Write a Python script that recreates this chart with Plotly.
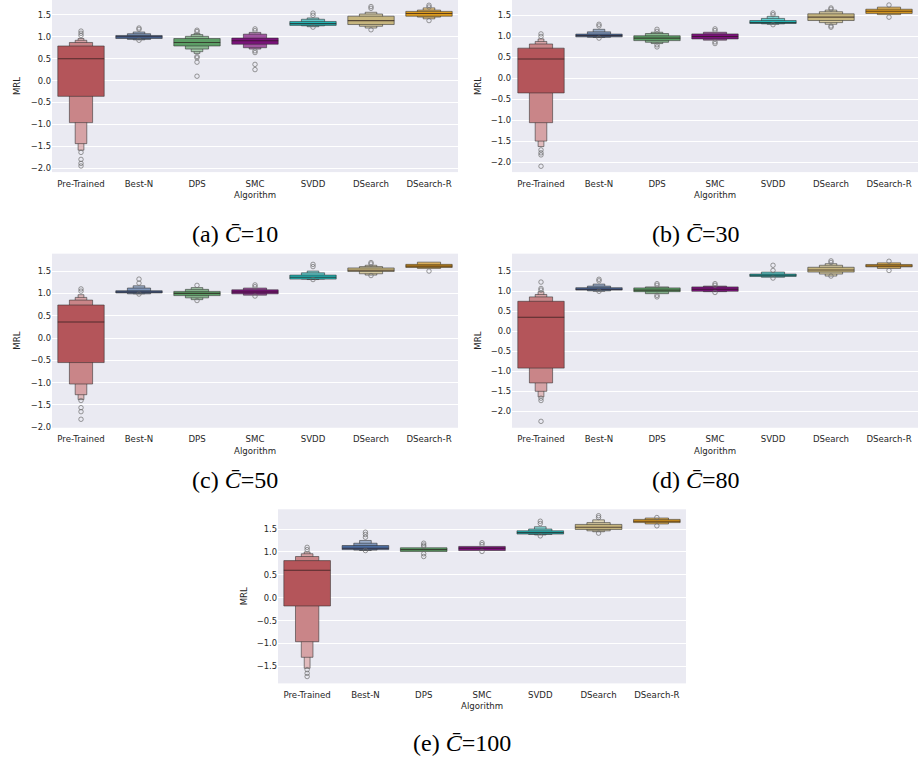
import plotly.graph_objects as go

W, H = 918, 762

ALGORITHMS = ["Pre-Trained", "Best-N", "DPS", "SMC", "SVDD", "DSearch", "DSearch-R"]
BASE_COLORS = ["#b4555a", "#4a6b9e", "#5c9e66", "#7b127b", "#22b5b5", "#c6b57e", "#dd9c1f"]
PANEL_LABELS = ["(a)", "(b)", "(c)", "(d)", "(e)"]
C_BAR = [10, 30, 50, 80, 100]

# ---- letter-value boxes: per algorithm, list of [low, high] from innermost box outward
MEDIAN_A = [0.50, 1.00, 0.87, 0.91, 1.30, 1.37, 1.53]
LEVELS_A = [
    [[-0.36, 0.79], [-0.96, 0.87], [-1.44, 0.92], [-1.59, 0.96]],
    [[0.96, 1.03], [0.94, 1.07], [0.93, 1.11]],
    [[0.79, 0.96], [0.72, 1.01], [0.66, 1.05], [0.62, 1.08]],
    [[0.83, 0.97], [0.75, 1.06], [0.72, 1.10]],
    [[1.26, 1.35], [1.25, 1.40], [1.23, 1.43]],
    [[1.28, 1.47], [1.24, 1.52], [1.20, 1.56]],
    [[1.47, 1.58], [1.45, 1.61], [1.41, 1.66]],
]
OUTLIERS_A = [
    [1.13, 1.08, 1.03, -1.64, -1.80, -1.89, -1.95],
    [1.20, 1.17, 0.92],
    [1.15, 1.12, 0.55, 0.52, 0.42, 0.10],
    [1.18, 1.14, 0.68, 0.64, 0.37, 0.25],
    [1.54, 1.49, 1.22],
    [1.69, 1.65, 1.16],
    [1.72, 1.68, 1.37],
]

MEDIAN_B = [0.46, 1.02, 0.96, 1.00, 1.33, 1.46, 1.60]
LEVELS_B = [
    [[-0.35, 0.72], [-1.06, 0.82], [-1.50, 0.88], [-1.63, 0.94]],
    [[0.99, 1.056], [0.98, 1.11], [0.975, 1.17]],
    [[0.90, 1.016], [0.86, 1.07], [0.83, 1.10]],
    [[0.94, 1.06], [0.91, 1.10]],
    [[1.31, 1.38], [1.30, 1.43], [1.29, 1.48]],
    [[1.38, 1.54], [1.33, 1.59], [1.29, 1.63]],
    [[1.55, 1.65], [1.52, 1.70]],
]
OUTLIERS_B = [
    [1.06, 1.00, -1.71, -1.78, -1.83, -2.10],
    [1.29, 1.25, 0.96],
    [1.17, 1.12, 0.80, 0.75],
    [1.18, 1.14, 0.87, 0.83],
    [1.56, 1.52, 1.28],
    [1.68, 1.65, 1.25, 1.22],
    [1.75, 1.46],
]

MEDIAN_C = [0.36, 1.03, 1.00, 1.03, 1.36, 1.52, 1.61]
LEVELS_C = [
    [[-0.55, 0.74], [-1.03, 0.85], [-1.27, 0.91], [-1.38, 0.97]],
    [[1.01, 1.06], [0.99, 1.12], [0.99, 1.17]],
    [[0.95, 1.045], [0.90, 1.09], [0.86, 1.13]],
    [[0.99, 1.08], [0.96, 1.12]],
    [[1.32, 1.41], [1.32, 1.46], [1.31, 1.50]],
    [[1.49, 1.57], [1.44, 1.60], [1.41, 1.63]],
    [[1.58, 1.65], [1.56, 1.70]],
]
OUTLIERS_C = [
    [1.10, 1.05, -1.40, -1.56, -1.65, -1.82],
    [1.32, 1.23, 0.985],
    [1.18, 0.84],
    [1.19, 1.15, 0.94],
    [1.65, 1.60, 1.31],
    [1.69, 1.66, 1.40],
    [1.50],
]

MEDIAN_D = [0.35, 1.05, 1.03, 1.05, 1.40, 1.53, 1.63]
LEVELS_D = [
    [[-0.92, 0.75], [-1.29, 0.86], [-1.50, 0.92], [-1.64, 0.99]],
    [[1.03, 1.09], [1.01, 1.13], [1.00, 1.18]],
    [[0.99, 1.085], [0.94, 1.11]],
    [[1.00, 1.11], [0.99, 1.13]],
    [[1.37, 1.43], [1.35, 1.48]],
    [[1.48, 1.60], [1.43, 1.65], [1.38, 1.69]],
    [[1.61, 1.67], [1.57, 1.71]],
]
OUTLIERS_D = [
    [1.23, 1.07, 1.03, -1.67, -1.73, -2.25],
    [1.30, 1.26, 1.00],
    [1.19, 1.15, 0.90, 0.86],
    [1.19, 1.15, 0.97],
    [1.65, 1.52, 1.33],
    [1.76, 1.72, 1.38],
    [1.75, 1.52],
]

MEDIAN_E = [0.60, 1.08, 1.05, 1.08, 1.42, 1.54, 1.67]
LEVELS_E = [
    [[-0.18, 0.81], [-0.96, 0.90], [-1.30, 0.96], [-1.54, 1.00]],
    [[1.05, 1.14], [1.04, 1.19], [1.03, 1.25]],
    [[1.01, 1.09]],
    [[1.03, 1.12]],
    [[1.39, 1.46], [1.38, 1.50], [1.37, 1.55]],
    [[1.49, 1.60], [1.46, 1.64], [1.44, 1.70]],
    [[1.64, 1.71], [1.61, 1.74]],
]
OUTLIERS_E = [
    [1.10, 1.05, -1.57, -1.65, -1.72],
    [1.43, 1.38, 1.32, 1.03],
    [1.19, 1.15, 1.12, 0.96, 0.90],
    [1.20, 1.16, 1.01],
    [1.67, 1.62, 1.35],
    [1.79, 1.75, 1.41],
    [1.75, 1.57],
]

PANELS = [
    (MEDIAN_A, LEVELS_A, OUTLIERS_A),
    (MEDIAN_B, LEVELS_B, OUTLIERS_B),
    (MEDIAN_C, LEVELS_C, OUTLIERS_C),
    (MEDIAN_D, LEVELS_D, OUTLIERS_D),
    (MEDIAN_E, LEVELS_E, OUTLIERS_E),
]

# ---- layout (pixel boxes of each plot area: left, right, top, bottom)
BOXES = [
    (52, 458, 0, 173),
    (512, 918, 0, 173),
    (52, 458, 255, 430),
    (512, 918, 255, 430),
    (278, 686, 512, 687),
]
YRANGES = [(-2.09, 1.84), (-2.24, 1.87), (-2.01, 1.89), (-2.41, 1.94), (-1.87, 1.93)]
CAPTION_POS = [(235, 235), (696, 235), (235, 483), (696, 483), (462, 747)]
MRL_X = [17, 478, 17, 478, 244]

EDGE = "rgba(45,45,45,0.62)"
FLIER = "rgba(105,105,105,0.85)"
LIGHTEN = [0.0, 0.28, 0.46, 0.6, 0.7]


def shade(hexcol, k):
    hexcol = hexcol.lstrip("#")
    r, g, b = (int(hexcol[i:i + 2], 16) for i in (0, 2, 4))
    t = LIGHTEN[min(k, len(LIGHTEN) - 1)]
    r = round(r + (255 - r) * t)
    g = round(g + (255 - g) * t)
    b = round(b + (255 - b) * t)
    return f"rgb({r},{g},{b})"


fig = go.Figure()
layout = dict(
    width=W, height=H, margin=dict(l=0, r=0, t=0, b=0),
    paper_bgcolor="white", plot_bgcolor="#EAEAF2",
    showlegend=False, barmode="overlay",
    font=dict(family="DejaVu Sans", size=8.5, color="#262626"),
)
annotations = []

for p, (medians, levels, outliers) in enumerate(PANELS):
    n = p + 1
    xa = "x" if n == 1 else f"x{n}"
    ya = "y" if n == 1 else f"y{n}"
    L, R, T, B = BOXES[p]
    maxlev = max(len(lv) for lv in levels)
    for k in reversed(range(maxlev)):
        xs, bases, heights, cols = [], [], [], []
        for i, lv in enumerate(levels):
            if k < len(lv):
                lo, hi = lv[k]
                xs.append(i)
                bases.append(lo)
                heights.append(hi - lo)
                cols.append(shade(BASE_COLORS[i], k))
        fig.add_trace(go.Bar(
            x=xs, y=heights, base=bases, width=0.8 * 0.5 ** k,
            marker=dict(color=cols, line=dict(color=EDGE, width=0.9)),
            xaxis=xa, yaxis=ya, hoverinfo="skip",
        ))
    for i, m in enumerate(medians):
        fig.add_trace(go.Scatter(
            x=[i - 0.4, i + 0.4], y=[m, m], mode="lines",
            line=dict(color="rgba(40,25,25,0.7)", width=1.1),
            xaxis=xa, yaxis=ya, hoverinfo="skip",
        ))
    fx, fy = [], []
    for i, ol in enumerate(outliers):
        for v in ol:
            fx.append(i)
            fy.append(v)
    fig.add_trace(go.Scatter(
        x=fx, y=fy, mode="markers",
        marker=dict(symbol="circle-open", size=4.5, color=FLIER, line=dict(width=0.8)),
        xaxis=xa, yaxis=ya, hoverinfo="skip",
    ))

    key_x = "xaxis" if n == 1 else f"xaxis{n}"
    key_y = "yaxis" if n == 1 else f"yaxis{n}"
    layout[key_x] = dict(
        domain=[L / W, R / W], anchor=ya, range=[-0.5, 6.5],
        tickmode="array", tickvals=list(range(len(ALGORITHMS))), ticktext=ALGORITHMS,
        showgrid=False, zeroline=False, showline=False, ticks="",
        ticklabeloverflow="allow", ticklabelstandoff=5,
        tickfont=dict(family="DejaVu Sans", size=8.6, color="#262626"),
    )
    layout[key_y] = dict(
        domain=[1 - B / H, 1 - T / H], anchor=xa, range=list(YRANGES[p]),
        tick0=0, dtick=0.5, tickformat=".1f",
        showgrid=True, gridcolor="white", gridwidth=1, zeroline=False,
        showline=False, ticks="",
        tickfont=dict(family="DejaVu Sans", size=8.4, color="#262626"),
    )
    annotations.append(dict(
        text="MRL", x=MRL_X[p] / W, y=1 - (T + B) / 2 / H, xref="paper", yref="paper",
        textangle=-90, showarrow=False, xanchor="center", yanchor="middle",
        font=dict(family="DejaVu Sans", size=8.6, color="#262626"),
    ))
    annotations.append(dict(
        text="Algorithm", x=(L + R) / 2 / W, y=1 - (B + 23) / H, xref="paper", yref="paper",
        showarrow=False, xanchor="center", yanchor="middle",
        font=dict(family="DejaVu Sans", size=8.6, color="#262626"),
    ))
    cx, cy = CAPTION_POS[p]
    annotations.append(dict(
        text=f"{PANEL_LABELS[p]} <i>C\u0304</i>={C_BAR[p]}", x=cx / W, y=1 - cy / H,
        xref="paper", yref="paper", showarrow=False, xanchor="center", yanchor="middle",
        font=dict(family="Liberation Serif", size=24, color="black"),
    ))

layout["annotations"] = annotations
fig.update_layout(**layout)
fig.write_html(
    "out.html",
    config={"displayModeBar": False},
    post_script="document.body.style.margin='0';document.body.style.overflow='hidden';",
)
